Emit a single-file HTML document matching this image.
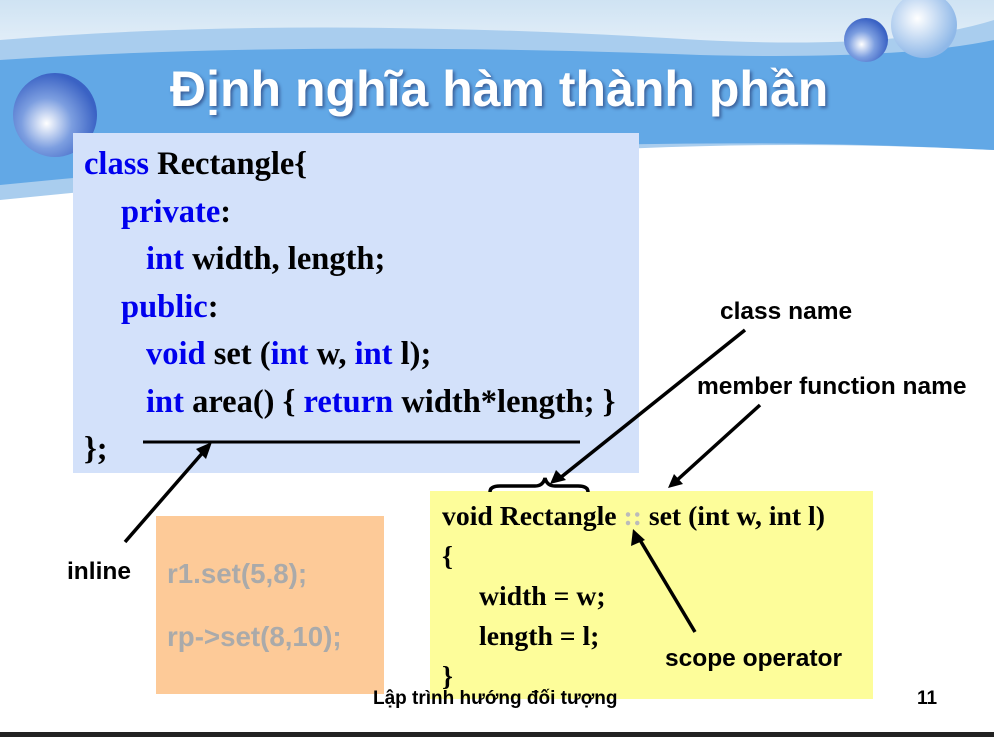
<!DOCTYPE html>
<html><head><meta charset="utf-8"><style>
body{margin:0;width:994px;height:737px;overflow:hidden;background:#fff;position:relative;font-family:"Liberation Sans",sans-serif}
.a{position:absolute;white-space:nowrap}
.code{font-family:"Liberation Serif",serif;font-weight:bold;font-size:32.5px;color:#000}
.k{color:#0000ee}
.lbl{font-family:"Liberation Sans",sans-serif;font-weight:bold;font-size:24.5px;color:#000}
</style></head><body>
<svg class="a" style="left:0;top:0" width="994" height="737">
<defs>
<radialGradient id="b1" cx="0.4" cy="0.6" r="0.6"><stop offset="0" stop-color="#fff"/><stop offset="0.5" stop-color="#7c9ee0"/><stop offset="1" stop-color="#3a62c4"/></radialGradient>
<radialGradient id="b2" cx="0.4" cy="0.4" r="0.6"><stop offset="0" stop-color="#fff"/><stop offset="1" stop-color="#8fb8e8"/></radialGradient>
<linearGradient id="sky" x1="0" y1="0" x2="0" y2="1"><stop offset="0" stop-color="#cfe3f3"/><stop offset="1" stop-color="#e9f2fa"/></linearGradient>
</defs>
<rect x="0" y="0" width="994" height="60" fill="url(#sky)"/>
<path d="M0 40 Q300 15 700 40 Q900 50 994 20 L994 150 Q800 140 600 150 Q300 170 0 200 Z" fill="#a9cdee"/>
<path d="M0 60 Q300 40 700 55 Q900 60 994 40 L994 150 Q800 140 600 145 Q300 155 0 185 Z" fill="#62a8e6"/>
<ellipse cx="55" cy="115" rx="42" ry="42" fill="url(#b1)"/>
<circle cx="866" cy="40" r="22" fill="url(#b1)"/>
<circle cx="924" cy="25" r="33" fill="url(#b2)"/>
<rect x="0" y="732" width="994" height="5" fill="#222"/>
<rect x="73" y="133" width="566" height="340" fill="#d3e1fa"/>
<rect x="156" y="516" width="228" height="178" fill="#fdca98"/>
<rect x="430" y="491" width="443" height="208" fill="#fdfd9a"/>
<line x1="143" y1="442" x2="580" y2="442" stroke="#000" stroke-width="3"/>
<g stroke="#000" stroke-width="3.5" fill="none">
<line x1="125" y1="542" x2="205" y2="450"/>
<line x1="745" y1="330" x2="560" y2="478"/>
<line x1="760" y1="405" x2="675" y2="482"/>
<line x1="695" y1="632" x2="640" y2="540"/>
<path d="M490 492 Q490 486 500 486 L535 486 Q543 486 545 478 Q547 486 555 486 L578 486 Q588 486 588 492"/>
</g>
<g fill="#000">
<polygon points="212,442 196,449 206,459"/>
<polygon points="550,484 556,470 566,480"/>
<polygon points="668,488 674,474 683,484"/>
<polygon points="633,529 631,546 645,540"/>
</g>
</svg>
<div class="a" style="left:170px;top:60px;font-size:50px;font-weight:bold;color:#fff;text-shadow:2px 2px 3px #3a5f99">Định nghĩa hàm thành phần</div>
<div class="a code" style="left:84px;top:141px;line-height:47.5px">
<div><span class="k">class</span> Rectangle{</div>
<div style="padding-left:37px"><span class="k">private</span>:</div>
<div style="padding-left:62px"><span class="k">int</span> width, length;</div>
<div style="padding-left:37px"><span class="k">public</span>:</div>
<div style="padding-left:62px"><span class="k">void</span> set (<span class="k">int</span> w, <span class="k">int</span> l);</div>
<div style="padding-left:62px"><span class="k">int</span> area() { <span class="k">return</span> width*length; }</div>
<div>};</div>
</div>
<div class="a code" style="left:442px;top:496px;font-size:27.7px;line-height:40px">
<div>void Rectangle <span style="color:#bbb">::</span> set (int w, int l)</div>
<div>{</div>
<div style="padding-left:37px">width = w;</div>
<div style="padding-left:37px">length = l;</div>
<div>}</div>
</div>
<div class="a lbl" style="left:720px;top:298px">class name</div>
<div class="a lbl" style="left:697px;top:373px">member function name</div>
<div class="a lbl" style="left:665px;top:645px">scope operator</div>
<div class="a lbl" style="left:67px;top:558px">inline</div>
<div class="a" style="left:167px;top:558px;font-size:27.7px;font-weight:bold;color:#aaa">r1.set(5,8);</div>
<div class="a" style="left:167px;top:621px;font-size:27.7px;font-weight:bold;color:#aaa">rp-&gt;set(8,10);</div>
<div class="a" style="left:373px;top:688px;font-size:19px;font-weight:bold">Lập trình hướng đối tượng</div>
<div class="a" style="left:917px;top:688px;font-size:19px;font-weight:bold">11</div>
</body></html>
